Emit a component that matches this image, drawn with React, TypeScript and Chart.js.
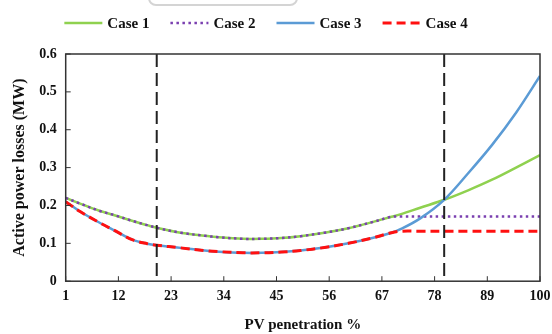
import React, { useEffect, useRef } from "react";
import { Chart, registerables } from "chart.js";

Chart.register(...registerables);

const xValues = [1, 4, 8, 11, 15, 18, 20, 25, 30, 33, 38, 42, 46, 50, 55, 60, 65, 69, 71, 75, 80, 85, 90, 95, 100];
const case1 = [0.22, 0.205, 0.186, 0.175, 0.159, 0.148, 0.141, 0.128, 0.12, 0.116, 0.112, 0.112, 0.114, 0.119, 0.128, 0.14, 0.156, 0.17, 0.177, 0.194, 0.215, 0.24, 0.268, 0.3, 0.333];
const case2 = [0.22, 0.205, 0.186, 0.175, 0.159, 0.148, 0.141, 0.128, 0.12, 0.116, 0.112, 0.112, 0.114, 0.119, 0.128, 0.14, 0.156, 0.17, 0.171, 0.171, 0.171, 0.171, 0.171, 0.171, 0.171];
const case3 = [0.21, 0.184, 0.155, 0.135, 0.109, 0.099, 0.095, 0.088, 0.081, 0.078, 0.075, 0.075, 0.077, 0.081, 0.089, 0.1, 0.114, 0.128, 0.138, 0.166, 0.215, 0.285, 0.36, 0.445, 0.542];
const case4 = [0.21, 0.184, 0.155, 0.135, 0.109, 0.099, 0.095, 0.088, 0.081, 0.078, 0.075, 0.075, 0.077, 0.081, 0.089, 0.1, 0.114, 0.128, 0.132, 0.132, 0.132, 0.132, 0.132, 0.132, 0.132];
const seriesNames = ["Case 1", "Case 2", "Case 3", "Case 4"];
const xTicks = [1, 12, 23, 34, 45, 56, 67, 78, 89, 100];
const yTicks = [0, 0.1, 0.2, 0.3, 0.4, 0.5, 0.6];
const markerLines = [20, 80];

const FONT = "'Liberation Serif', 'Times New Roman', serif";

const toPts = (ys: number[]) => ys.map((y, i) => ({ x: xValues[i], y }));

const LEGEND = { centerX: 266, y: 23, line: 38, gap: 5, itemGap: 21, font: `bold 15px ${FONT}` };

const legendPlugin = {
  id: "customLegend",
  afterDraw(chart: any) {
    const { ctx } = chart;
    const ds = chart.data.datasets;
    ctx.save();
    ctx.font = LEGEND.font;
    const widths = ds.map((d: any) => LEGEND.line + LEGEND.gap + ctx.measureText(d.label).width);
    const total = widths.reduce((s: number, w: number) => s + w, 0) + LEGEND.itemGap * (ds.length - 1);
    let x = LEGEND.centerX - total / 2;
    ds.forEach((d: any, i: number) => {
      ctx.strokeStyle = d.borderColor;
      ctx.lineWidth = d.borderWidth;
      ctx.setLineDash(d.borderDash || []);
      ctx.beginPath();
      ctx.moveTo(x, LEGEND.y);
      ctx.lineTo(x + LEGEND.line, LEGEND.y);
      ctx.stroke();
      ctx.setLineDash([]);
      ctx.fillStyle = "#111";
      ctx.textBaseline = "middle";
      ctx.textAlign = "left";
      ctx.fillText(d.label, x + LEGEND.line + LEGEND.gap, LEGEND.y + 1);
      x += widths[i] + LEGEND.itemGap;
    });
    ctx.restore();
  },
};

const framePlugin = {
  id: "frame",
  afterDatasetsDraw(chart: any) {
    const { ctx, chartArea: a, scales } = chart;
    ctx.save();
    ctx.strokeStyle = "#222";
    ctx.lineWidth = 2;
    ctx.setLineDash([13, 6]);
    markerLines.forEach((v) => {
      const px = scales.x.getPixelForValue(v);
      ctx.beginPath();
      ctx.moveTo(px, a.top);
      ctx.lineTo(px, a.bottom);
      ctx.stroke();
    });
    ctx.setLineDash([]);
    ctx.strokeStyle = "#333";
    ctx.lineWidth = 1.5;
    ctx.strokeRect(a.left, a.top, a.right - a.left, a.bottom - a.top);
    ctx.lineWidth = 1;
    xTicks.forEach((v) => {
      const px = scales.x.getPixelForValue(v);
      ctx.beginPath();
      ctx.moveTo(px, a.bottom);
      ctx.lineTo(px, a.bottom - 5);
      ctx.stroke();
    });
    yTicks.forEach((v) => {
      const py = scales.y.getPixelForValue(v);
      ctx.beginPath();
      ctx.moveTo(a.left, py);
      ctx.lineTo(a.left + 5, py);
      ctx.stroke();
    });
    ctx.restore();
  },
};

export default function App() {
  const ref = useRef<HTMLCanvasElement>(null);
  useEffect(() => {
    document.body.style.margin = "0";
    const chart = new Chart(ref.current!, {
      type: "line",
      data: {
        datasets: [
          { label: seriesNames[0], data: toPts(case1), borderColor: "#8fd14f", borderWidth: 2.5, order: 3 },
          { label: seriesNames[1], data: toPts(case2), borderColor: "#7a3fb0", borderWidth: 2.5, borderDash: [2.5, 3.5], order: 2 },
          { label: seriesNames[2], data: toPts(case3), borderColor: "#5b9bd5", borderWidth: 2.5, order: 1 },
          { label: seriesNames[3], data: toPts(case4), borderColor: "#ff1010", borderWidth: 3, borderDash: [9, 5], order: 0 },
        ].map((d) => ({ ...d, pointRadius: 0, fill: false, tension: 0.35 })),
      },
      options: {
        animation: false,
        responsive: false,
        maintainAspectRatio: false,
        layout: { padding: { left: 10, right: 0, top: 54, bottom: 0 } },
        plugins: {
          tooltip: { enabled: false },
          legend: { display: false },
        },
        scales: {
          x: {
            type: "linear",
            min: 1,
            max: 100,
            afterBuildTicks: (s: any) => {
              s.ticks = xTicks.map((v) => ({ value: v }));
            },
            afterFit: (s: any) => {
              s.paddingRight = 12;
              s.paddingLeft = 0;
            },
            grid: { display: false, drawTicks: false },
            border: { display: false },
            ticks: { padding: 7, color: "#111", font: { family: FONT, size: 14, weight: "bold" } },
            title: { display: true, text: "PV penetration %", color: "#111", padding: { top: 4, bottom: 0 }, font: { family: FONT, size: 15, weight: "bold" } },
          },
          y: {
            min: 0,
            max: 0.6,
            afterBuildTicks: (s: any) => {
              s.ticks = yTicks.map((v) => ({ value: v }));
            },
            afterFit: (s: any) => {
              s.paddingTop = 0;
              s.paddingBottom = 0;
            },
            grid: { display: false, drawTicks: false },
            border: { display: false },
            ticks: { padding: 9, color: "#111", font: { family: FONT, size: 14, weight: "bold" } },
            title: { display: true, text: "Active power losses (MW)", color: "#111", padding: { top: 0, bottom: 1 }, font: { family: FONT, size: 16, weight: "bold" } },
          },
        },
      },
      plugins: [framePlugin, legendPlugin],
    });
    return () => chart.destroy();
  }, []);
  return (
    <div style={{ position: "relative", width: 552, height: 334, background: "#fff", overflow: "hidden" }}>
      <div style={{ position: "absolute", left: 148, top: -14, width: 146, height: 16, border: "2px solid #d4d4d4", borderRadius: 8 }} />
      <canvas ref={ref} width={552} height={334} style={{ display: "block" }} />
    </div>
  );
}
